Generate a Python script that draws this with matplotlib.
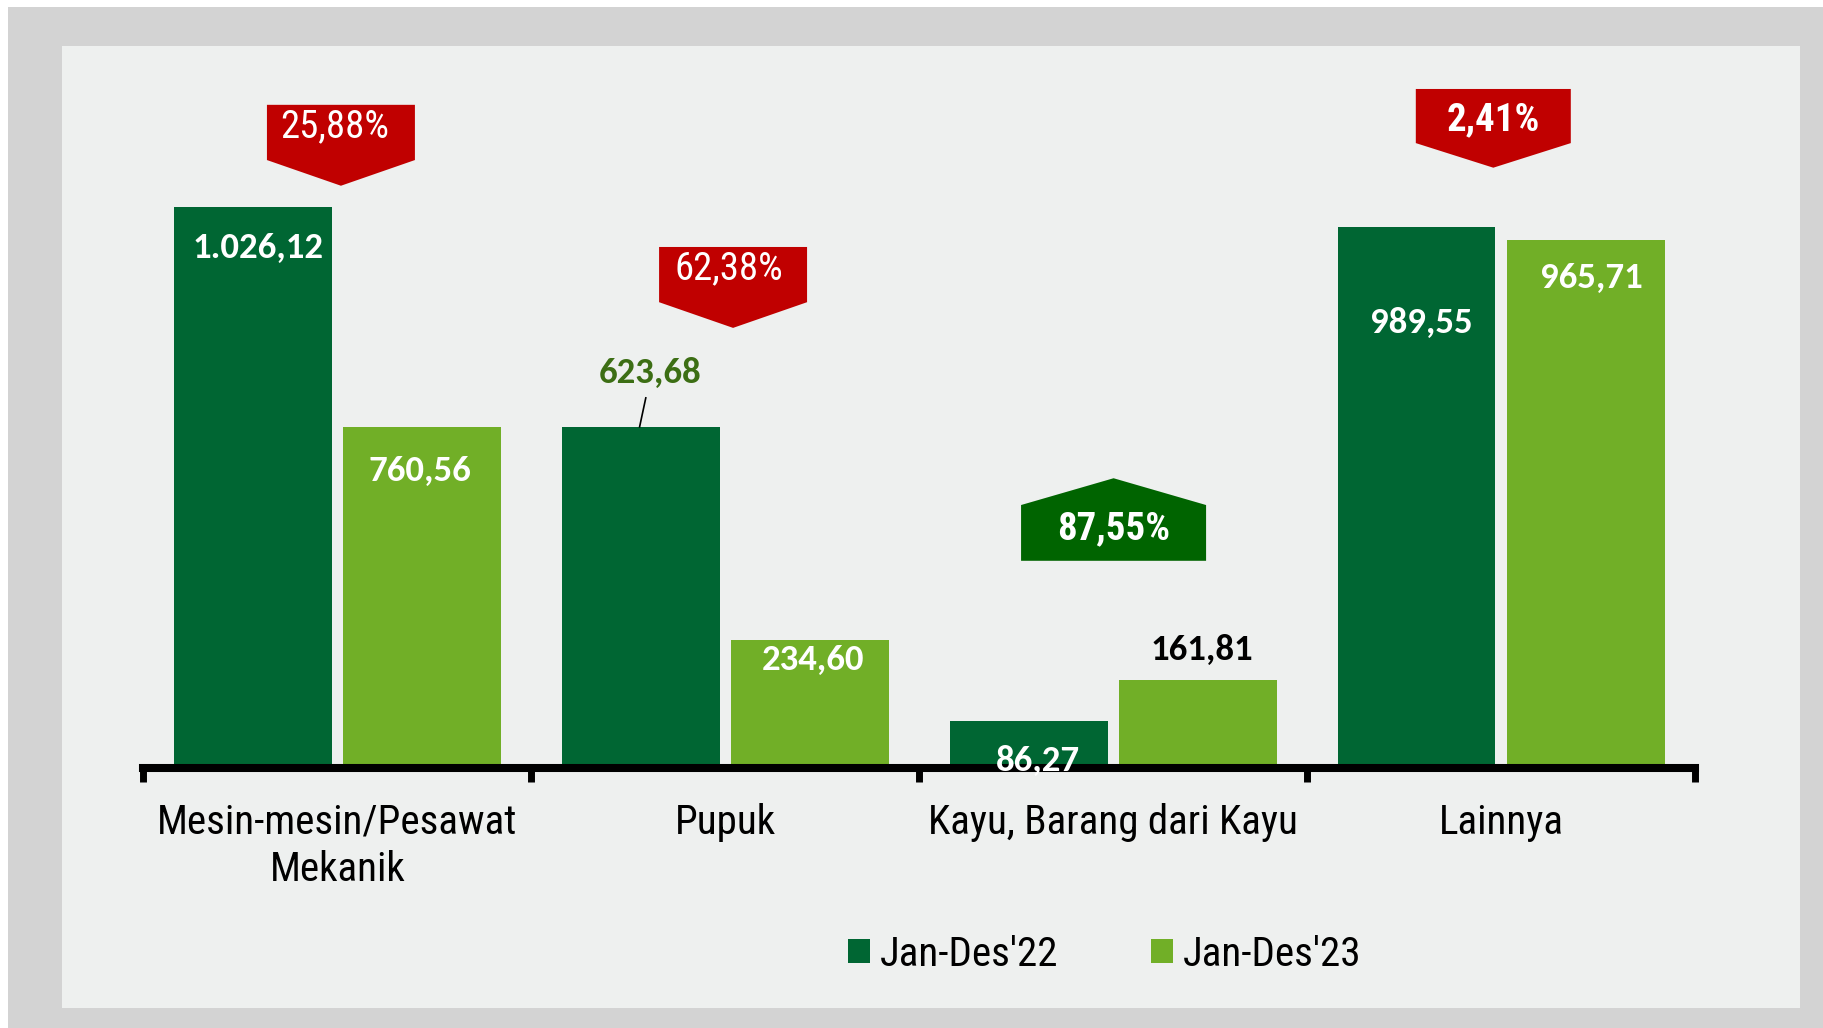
import matplotlib
matplotlib.use("Agg")
import matplotlib.pyplot as plt
from matplotlib.patches import Rectangle, Polygon
import numpy as np

# data
categories = ["Mesin-mesin/Pesawat\nMekanik", "Pupuk", "Kayu, Barang dari Kayu", "Lainnya"]
series_names = ["Jan-Des'22", "Jan-Des'23"]
values_22 = [1026.12, 623.68, 86.27, 989.55]
# bar heights of 2023 as drawn in the picture (the first bar is drawn at ~623)
heights_23 = [623.68, 234.60, 161.81, 965.71]
labels_22 = ["1.026,12", "623,68", "86,27", "989,55"]
labels_23 = ["760,56", "234,60", "161,81", "965,71"]
pct_labels = ["25,88%", "62,38%", "87,55%", "2,41%"]
pct_up = [False, False, True, False]

DARK = "#006633"
LIGHT = "#71AF27"
RED = "#C00000"
UPGREEN = "#006400"
NARROW = ["Roboto Condensed", "Archivo Narrow", "DejaVu Sans"]
NUMFONT = ["Carlito", "Lato", "DejaVu Sans"]

fig = plt.figure(figsize=(18.24, 10.28), dpi=100, facecolor="white")
W, H = 1824, 1028

# frame and panel
fig.patches.append(Rectangle((8 / W, 0), 1, 1 - 7 / H, transform=fig.transFigure,
                             facecolor="#D3D3D3", edgecolor="none", zorder=-10))
fig.patches.append(Rectangle((62 / W, 20 / H), 1738 / W, 962 / H, transform=fig.transFigure,
                             facecolor="#EEF0EF", edgecolor="none", zorder=-9))

ax = fig.add_axes([143.5 / W, (H - 768) / H, 1551.5 / W, 722 / H])
ax.set_facecolor("none")
ax.set_xlim(-0.5, 3.5)
ax.set_ylim(0, 1320.6)

x = np.arange(len(categories))
bw = 0.407
off = 0.218
ax.bar(x - off, values_22, bw, color=DARK, label=series_names[0], zorder=1)
ax.bar(x + off, heights_23, bw, color=LIGHT, label=series_names[1], zorder=1)

for s in ["left", "right", "top"]:
    ax.spines[s].set_visible(False)
ax.spines["bottom"].set_linewidth(5.8)
ax.spines["bottom"].set_color("black")
ax.set_yticks([])
ax.set_xticks(np.arange(-0.5, 4.0, 1.0))
ax.set_xticklabels([])
ax.tick_params(axis="x", which="major", direction="out", length=10, width=5, color="black")
ax.set_xticks(x, categories, minor=True)
ax.tick_params(axis="x", which="minor", length=0, pad=25)
for t in ax.get_xticklabels(minor=True):
    t.set_fontfamily(NARROW)
    t.set_fontsize(29.5)
    t.set_linespacing(1.28)

# value labels (positions in data units)
lab22_dx = [0.013, 0.023, 0.023, 0.013]
lab22_y = [951, 722, 13, 814]
lab22_col = ["white", "#3C6E14", "white", "white"]
lab23_dx = [-0.005, 0.008, 0.010, 0.015]
lab23_y = [543, 197, 216, 896]
lab23_col = ["white", "white", "black", "white"]
for i in range(len(categories)):
    ax.text(x[i] - off + lab22_dx[i], lab22_y[i], labels_22[i], ha="center", va="center",
            fontsize=26.5, fontweight="bold", family=NUMFONT, color=lab22_col[i], zorder=4)
    ax.text(x[i] + off + lab23_dx[i], lab23_y[i], labels_23[i], ha="center", va="center",
            fontsize=26.5, fontweight="bold", family=NUMFONT, color=lab23_col[i], zorder=4)

# leader line for 623,68
ax.plot([1 - off + 0.013, 1 - off - 0.003], [677, 624], color="black", lw=1.2, zorder=3)

# callouts: center x, width, outer y, rect edge y, tip y
call_cx = [0.009, 1.020, 2.001, 2.980]
call_w = [0.3815, 0.3815, 0.477, 0.3996]
call_a = [1213, 953, 379, 1242]
call_b = [1112, 852, 481, 1143]
call_c = [1065, 805, 530, 1098]
call_ty = [1172, 914, 437, 1185]
call_tx = [-0.015, -0.01, 0.0, 0.0]
call_bold = [False, False, True, True]
for i in range(len(categories)):
    cx, w = call_cx[i], call_w[i]
    l, r = cx - w / 2, cx + w / 2
    pts = [(l, call_a[i]), (r, call_a[i]), (r, call_b[i]), (cx, call_c[i]), (l, call_b[i])]
    col = UPGREEN if pct_up[i] else RED
    ax.add_patch(Polygon(pts, closed=True, facecolor=col, edgecolor="none", zorder=2,
                         clip_on=False))
    ax.text(cx + call_tx[i], call_ty[i], pct_labels[i], ha="center", va="center",
            fontsize=28, family=NARROW, color="white",
            fontweight="bold" if call_bold[i] else "normal", zorder=4)

leg = ax.legend(loc="center", bbox_to_anchor=(1104.5 / W, 1 - 954 / H),
                bbox_transform=fig.transFigure, ncol=2, frameon=False,
                prop={"family": NARROW, "size": 29.5}, handlelength=0.54, handleheight=0.54,
                handletextpad=0.24, columnspacing=2.27)

fig.savefig("out.png", dpi=100, facecolor=fig.get_facecolor())
